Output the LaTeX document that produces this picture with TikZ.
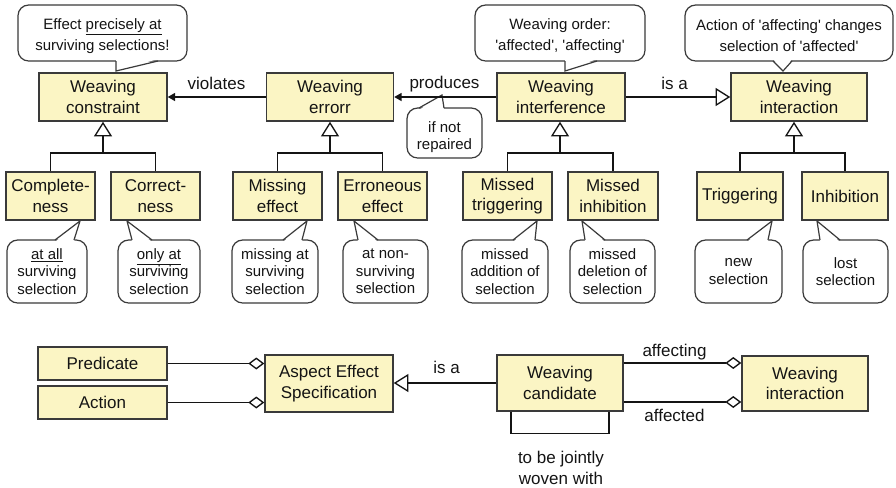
\documentclass[tikz,border=0pt]{standalone}
\usepackage{fontspec}
\setmainfont{Liberation Sans}[Ligatures=TeXOff]
\usetikzlibrary{arrows.meta,calc}

\definecolor{boxfill}{RGB}{251,245,196}
\definecolor{boxline}{RGB}{58,58,58}
\definecolor{ink}{RGB}{20,20,20}

\newcommand\clsfont{\fontsize{12.75}{15.5}\selectfont}
\newcommand\calloutfont{\fontsize{11.25}{13}\selectfont}

% pointer of a speech bubble: base x1, base x2, edge y, tip x, tip y, inward shift
\newcommand\calloutptr[6]{%
  \fill[white] (#1,#3+#6) -- (#4,#5) -- (#2,#3+#6) -- cycle;
  \draw[ptrline] (#1,#3) -- (#4,#5) -- (#2,#3);}

\begin{document}
\begin{tikzpicture}[x=0.75pt,y=-0.75pt,
  cls/.style 2 args={draw=boxline, fill=boxfill, line width=1.1pt, align=center,
    inner sep=0pt, minimum width=#1*0.75pt, minimum height=#2*0.75pt,
    font=\clsfont, text=ink},
  bubble/.style 2 args={draw=boxline, fill=white, line width=0.9pt, rounded corners=8pt,
    align=center, inner sep=0pt, minimum width=#1*0.75pt, minimum height=#2*0.75pt,
    font=\calloutfont, text=ink},
  ptrline/.style={draw=boxline, line width=0.9pt, line join=miter},
  lbl/.style={font=\clsfont, text=ink, inner sep=0pt, anchor=base},
  link/.style={draw=ink, line width=1pt},
  nav/.style={link, -{Triangle[length=5.5pt,width=6pt]}},
  gen/.style={link, -{Triangle[open,length=11pt,width=13.5pt,fill=white]}},
  agg/.style={link, -{Diamond[open,length=12pt,width=9pt,fill=white]}},
]
\useasboundingbox (0,0) rectangle (896,487);

% ---- speech bubbles -------------------------------------------------
\node[bubble={169}{56}] (nconstr) at (102.5,33)
  {\rule{0pt}{12.5pt}Effect \underline{precisely at}\\[3pt]surviving selections!};
\calloutptr{116}{158}{61}{116}{71}{-2}
\node[bubble={170}{56}] (norder) at (560,33)
  {\rule{0pt}{12.5pt}Weaving order:\\[3pt]'affected', 'affecting'};
\calloutptr{565}{597}{61}{565}{71}{-2}
\node[bubble={208}{56}] (nchange) at (789,33)
  {\rule{0pt}{12.5pt}Action of 'affecting' changes\\[3pt]selection of 'affected'};
\calloutptr{773}{792}{61}{783}{71}{-2}

\node[bubble={75}{50}] (nrep) at (444.5,133) {\rule{0pt}{14pt}if not\\repaired};
\calloutptr{419}{444}{108}{442}{95}{2}

\node[bubble={80}{63}]  (ncompl) at (47,271.5)   {\underline{at all}\\surviving\\selection};
\calloutptr{55}{74}{240}{80}{221}{2}
\node[bubble={82}{63}]  (ncorr)  at (159,271.5)  {\underline{only at}\\surviving\\selection};
\calloutptr{132}{152}{240}{127}{221}{2}
\node[bubble={86}{63}]  (nmiss)  at (275,271.5)  {missing at\\surviving\\selection};
\calloutptr{283}{302}{240}{307}{221}{2}
\node[bubble={85}{63}]  (nerr)   at (385.5,271.5){at non-\\surviving\\selection};
\calloutptr{358}{378}{240}{354}{221}{2}
\node[bubble={86}{63}]  (nmtrig) at (505,271.5)  {missed\\addition of\\selection};
\calloutptr{513}{535}{240}{537}{221}{2}
\node[bubble={85}{63}]  (nminh)  at (612.5,271.5){missed\\deletion of\\selection};
\calloutptr{585}{605}{240}{582}{221}{2}
\node[bubble={87}{63}]  (ntrig)  at (738.5,271.5){new\\selection};
\calloutptr{747}{768}{240}{772}{221}{2}
\node[bubble={85}{63}]  (ninh)   at (845.5,271.5){lost\\selection};
\calloutptr{820}{840}{240}{817}{221}{2}

% ---- classes, upper part ----------------------------------------------
\node[cls={128}{48}] (wc) at (103,97)   {Weaving\\constraint};
\node[cls={127}{48}] (we) at (330,97)   {Weaving\\errorr};
\node[cls={128}{48}] (wf) at (561,97)   {Weaving\\interference};
\node[cls={136}{48}] (wi) at (799,97)   {Weaving\\interaction};

\node[cls={89}{48}] (compl) at (50.5,196)  {Complete-\\ness};
\node[cls={89}{48}] (corr)  at (155.5,196) {Correct-\\ness};
\node[cls={89}{48}] (miss)  at (277.5,196) {Missing\\effect};
\node[cls={89}{48}] (err)   at (382.5,196) {Erroneous\\effect};
\node[cls={89}{48}] (mtrig) at (507.5,196) {Missed\\triggering};
\node[cls={90}{48}] (minh)  at (613,196)   {Missed\\inhibition};
\node[cls={86}{48}] (trig)  at (740,196)   {Triggering};
\node[cls={86}{48}] (inh)   at (845,196)   {Inhibition};

% associations between the upper classes
\draw[nav] (we.west) -- (wc.east);
\node[lbl] (lviol) at (216.5,89) {violates};
\draw[nav] (wf.west) -- (we.east);
\node[lbl] (lprod) at (444.5,88) {produces};
\draw[gen] (wf.east) -- (wi.west);
\node[lbl] (lisa1) at (674.5,89) {is a};

% specialisation trees
\coordinate (j1) at (103,153);
\coordinate (j2) at (330,153);
\coordinate (j3) at (560,153);
\coordinate (j4) at (794,153);
\draw[link] (compl.north) |- (j1) -| (corr.north);
\draw[gen] (j1) -- (j1 |- wc.south);
\draw[link] (miss.north) |- (j2) -| (err.north);
\draw[gen] (j2) -- (j2 |- we.south);
\draw[link] (mtrig.north) |- (j3) -| (minh.north);
\draw[gen] (j3) -- (j3 |- wf.south);
\draw[link] (trig.north) |- (j4) -| (inh.north);
\draw[gen] (j4) -- (j4 |- wi.south);

% ---- classes, lower part ----------------------------------------------
\node[cls={129}{33}] (pred) at (102.5,363.5) {Predicate};
\node[cls={129}{33}] (act)  at (102.5,402.5) {Action};
\node[cls={128}{57}] (aes)  at (329,383.5)   {Aspect Effect\\Specification};
\node[cls={126}{56}] (cand) at (560,383)     {Weaving\\candidate};
\node[cls={126}{55}] (wi2)  at (805,383.5)   {Weaving\\interaction};

\draw[agg] (pred.east) -- (pred.east -| aes.west);
\draw[agg] (act.east) -- (act.east -| aes.west);
\draw[gen] (cand.west) -- (cand.west -| aes.east);
\node[lbl] (lisa2) at (446.5,373.3) {is a};

\coordinate (a1) at ($(cand.east)+(0,-20)$);
\coordinate (a2) at ($(cand.east)+(0,19)$);
\draw[agg] (a1) -- (a1 -| wi2.west);
\draw[agg] (a2) -- (a2 -| wi2.west);
\node[lbl] (laffg) at (674.5,356.7) {affecting};
\node[lbl] (laffd) at (674.5,421.7) {affected};

% self association of the candidate
\coordinate (s1) at ($(cand.south)+(-49,0)$);
\coordinate (s2) at ($(cand.south)+(49,0)$);
\draw[link] (s1) -- ++(0,22) -| (s2);
\node[font=\clsfont, text=ink, align=center, inner sep=0pt] (ljoint) at (561,468)
  {to be jointly\\woven with};
\end{tikzpicture}
\end{document}
